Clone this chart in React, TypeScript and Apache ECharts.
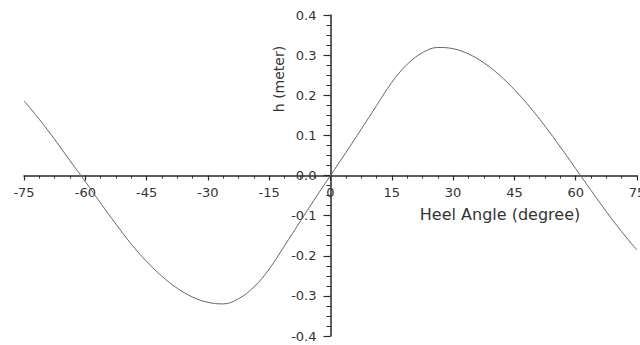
import React, { useEffect, useRef } from "react";
import * as echarts from "echarts";

const heelAngles: number[] = [
  -75, -71.25, -67.5, -63.75, -60, -56.25, -52.5, -48.75, -45, -41.25, -37.5,
  -33.75, -30, -26.25, -22.5, -18.75, -15, -11.25, -7.5, -3.75, 0, 3.75, 7.5,
  11.25, 15, 18.75, 22.5, 26.25, 30, 33.75, 37.5, 41.25, 45, 48.75, 52.5,
  56.25, 60, 63.75, 67.5, 71.25, 75,
];
const hValues: number[] = [
  0.186, 0.14, 0.09, 0.037, -0.015, -0.069, -0.121, -0.171, -0.214, -0.251,
  -0.281, -0.303, -0.316, -0.32, -0.307, -0.278, -0.233, -0.175, -0.116,
  -0.057, 0, 0.057, 0.115, 0.174, 0.232, 0.277, 0.306, 0.319, 0.316, 0.303,
  0.281, 0.251, 0.214, 0.171, 0.123, 0.071, 0.017, -0.037, -0.09, -0.14,
  -0.186,
];
const xAxisTitle = "Heel Angle (degree)";
const yAxisTitle = "h (meter)";

const W = 640;
const H = 345;
const GRID = { left: 24, right: 3, top: 15, bottom: 9 };

export default function App() {
  const ref = useRef<HTMLDivElement>(null);
  useEffect(() => {
    if (!ref.current) return;
    const chart = echarts.init(ref.current, null, { renderer: "svg" });
    const font = "DejaVu Sans";
    const axisColor = "#2a2a2a";
    chart.setOption({
      animation: false,
      backgroundColor: "#ffffff",
      grid: { ...GRID, containLabel: false, outerBoundsMode: "none" },
      xAxis: {
        type: "value",
        position: "bottom",
        min: -75,
        max: 75,
        interval: 15,
        axisLine: { onZero: false, lineStyle: { color: axisColor, width: 1.5 } },
        axisTick: { show: true, inside: false, length: 5, lineStyle: { color: axisColor, width: 1.2 } },
        minorTick: { show: true, splitNumber: 4, length: 3, lineStyle: { color: axisColor, width: 1 } },
        splitLine: { show: false },
        axisLabel: { margin: 10, fontSize: 13, fontFamily: font, color: "#333" },
      },
      yAxis: {
        type: "value",
        position: "left",
        min: -0.4,
        max: 0.4,
        interval: 0.1,
        axisLine: { onZero: false, lineStyle: { color: axisColor, width: 1.5 } },
        axisTick: { show: true, inside: false, length: 7, lineStyle: { color: axisColor, width: 1.2 } },
        minorTick: { show: true, splitNumber: 4, length: 4, lineStyle: { color: axisColor, width: 1 } },
        splitLine: { show: false },
        axisLabel: {
          margin: 14,
          fontSize: 13,
          fontFamily: font,
          color: "#333",
          formatter: (v: number) => v.toFixed(1),
        },
      },
      graphic: [
        {
          type: "text",
          x: 500,
          y: 214,
          style: {
            text: xAxisTitle,
            fontSize: 16,
            fontFamily: font,
            fill: "#333",
            align: "center",
            verticalAlign: "middle",
          },
        },
        {
          type: "text",
          x: 279,
          y: 79,
          rotation: Math.PI / 2,
          style: {
            text: yAxisTitle,
            fontSize: 14,
            fontFamily: font,
            fill: "#333",
            align: "center",
            verticalAlign: "middle",
          },
        },
      ],
      series: [
        {
          type: "line",
          data: heelAngles.map((x, i) => [x, hValues[i]]),
          smooth: 0.4,
          showSymbol: false,
          lineStyle: { color: "#666", width: 1 },
        },
      ],
    });
    // move both axes so they cross at the origin
    const origin = chart.convertToPixel({ gridIndex: 0 }, [0, 0]) as number[];
    if (origin && isFinite(origin[0]) && isFinite(origin[1])) {
      const xOffset = -((H - GRID.bottom) - origin[1]);
      const yOffset = -(origin[0] - GRID.left);
      chart.setOption({
        xAxis: { offset: xOffset },
        yAxis: { offset: yOffset },
      });
    }
    return () => chart.dispose();
  }, []);
  return (
    <div
      ref={ref}
      style={{ position: "fixed", left: 0, top: 0, width: W, height: H, background: "#fff" }}
    />
  );
}
